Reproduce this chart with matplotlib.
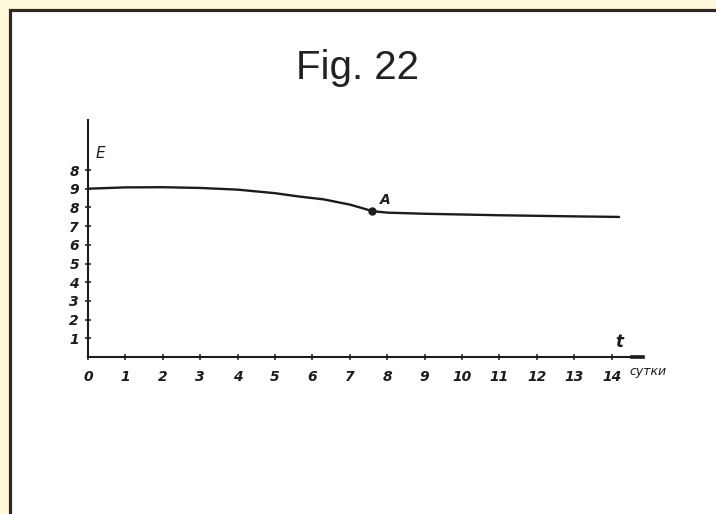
import matplotlib
matplotlib.use("Agg")
import matplotlib.pyplot as plt
from matplotlib.patches import Rectangle

# curve E(t)
t_days = [0, 1, 2, 3, 4, 5, 5.65, 6.3, 7.0, 7.3, 7.6, 8.0, 9, 10, 11, 12, 13, 14.2]
e_vals = [9.0, 9.07, 9.08, 9.04, 8.95, 8.76, 8.58, 8.43, 8.15, 7.98, 7.8, 7.72, 7.66, 7.62, 7.58, 7.55, 7.52, 7.49]
point_a = (7.6, 7.8)

x_ticks = list(range(15))
x_labels = [str(v) for v in x_ticks]
y_ticks = list(range(1, 11))
y_labels = ["1", "2", "3", "4", "5", "6", "7", "8", "9", "8"]

W, H = 716, 514
ink = "#1c1c1c"
hand = dict(family="DejaVu Sans", fontweight="bold", fontstyle="oblique", color=ink)

fig = plt.figure(figsize=(W / 100, H / 100), dpi=100, facecolor="#fff9dc")

# white panel with dark frame (cropped on right and bottom)
frame = Rectangle((10 / W, -0.2), 1.5, 1.2 - 9.5 / H, transform=fig.transFigure,
                  facecolor="white", edgecolor="#2a2a2a", linewidth=2.3, zorder=-10)
fig.patches.append(frame)

fig.text(357 / W, 1 - 79 / H, "Fig. 22", ha="center", va="baseline", fontsize=29,
         family=["Liberation Sans Narrow", "Liberation Sans"], color="#222222")

px_x, px_y = 37.4, 18.7
xmax, ymax = 14.85, 12.7
ax = fig.add_axes([88 / W, 1 - 357 / H, xmax * px_x / W, ymax * px_y / H])
ax.set_facecolor("none")
ax.set_xlim(0, xmax)
ax.set_ylim(0, ymax)

for side in ("top", "right"):
    ax.spines[side].set_visible(False)
for side in ("left", "bottom"):
    ax.spines[side].set_linewidth(1.5)
    ax.spines[side].set_color(ink)

ax.set_xticks(x_ticks)
ax.set_xticklabels(x_labels, **hand, fontsize=10)
ax.set_yticks(y_ticks)
ax.set_yticklabels(y_labels, **hand, fontsize=10)
ax.tick_params(axis="both", direction="inout", length=5, width=1.1, color=ink)
ax.tick_params(axis="x", pad=7)
ax.tick_params(axis="y", pad=4)

ax.plot(t_days, e_vals, color=ink, linewidth=1.7, solid_capstyle="round", clip_on=False)
ax.plot([point_a[0]], [point_a[1]], "o", color=ink, markersize=5)
# thicker stroke at the end of the t axis
ax.plot([14.55, xmax], [0, 0], color=ink, linewidth=2.6, clip_on=False)

ax.text(7.94, 8.4, "A", **hand, fontsize=10, ha="center", va="center")
ax.text(0.32, 10.9, "E", family="DejaVu Sans", fontstyle="oblique", color=ink,
        fontsize=11, ha="center", va="center")
ax.text(14.2, 0.8, "t", family="DejaVu Sans", fontstyle="oblique", fontweight="bold",
        color=ink, fontsize=12, ha="center", va="center", clip_on=False)
ax.text(14.97, -0.8, "сутки", family="DejaVu Sans", fontstyle="oblique", color=ink,
        fontsize=9, ha="center", va="center", clip_on=False)

fig.savefig("out.png", dpi=100, facecolor=fig.get_facecolor())
